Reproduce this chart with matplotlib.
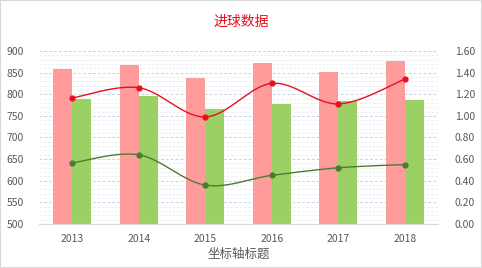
import matplotlib
matplotlib.use("Agg")
import matplotlib.pyplot as plt
import numpy as np
from matplotlib.patches import Rectangle
from matplotlib.ticker import MultipleLocator, FormatStrFormatter

plt.rcParams["font.family"] = ["Noto Sans CJK SC", "DejaVu Sans"]

years = ["2013", "2014", "2015", "2016", "2017", "2018"]
bar_a = [858, 868, 838, 872, 851, 877]
bar_b = [789, 796, 766, 777, 784, 787]
line_a = [1.165, 1.26, 0.99, 1.30, 1.11, 1.34]
line_b = [0.565, 0.64, 0.36, 0.45, 0.52, 0.55]

PINK = "#FF9B9B"
GREEN = "#9BD065"
RED = "#E8101E"
OLIVE = "#4F7A32"
GRAY = "#595959"


def smooth(x, y, n=30):
    # catmull-rom style bezier, like excel's smoothed line
    x = np.asarray(x, float)
    y = np.asarray(y, float)
    px = np.concatenate([[x[0]], x, [x[-1]]])
    py = np.concatenate([[y[0]], y, [y[-1]]])
    xs, ys = [], []
    t = np.linspace(0, 1, n)
    for i in range(1, len(px) - 2):
        p0 = np.array([px[i], py[i]])
        p3 = np.array([px[i + 1], py[i + 1]])
        c1 = p0 + (np.array([px[i + 1], py[i + 1]]) - np.array([px[i - 1], py[i - 1]])) / 6
        c2 = p3 - (np.array([px[i + 2], py[i + 2]]) - np.array([px[i], py[i]])) / 6
        b = ((1 - t) ** 3)[:, None] * p0 + (3 * (1 - t) ** 2 * t)[:, None] * c1 \
            + (3 * (1 - t) * t ** 2)[:, None] * c2 + (t ** 3)[:, None] * p3
        xs.append(b[:, 0])
        ys.append(b[:, 1])
    return np.concatenate(xs), np.concatenate(ys)


fig = plt.figure(figsize=(4.82, 2.68), dpi=100)
fig.patches.append(Rectangle((0, 0), 1, 1, transform=fig.transFigure,
                             fill=False, edgecolor="#D9D9D9", linewidth=1.5))
ax = fig.add_axes([0.081, 0.164, 0.828, 0.646])
x = np.arange(len(years))
w = 0.284
ax.bar(x - w / 2, bar_a, width=w, color=PINK, zorder=2)
ax.bar(x + w / 2, bar_b, width=w, color=GREEN, zorder=2)
ax.set_ylim(500, 900)
ax.set_xlim(-0.5, len(years) - 0.5)
ax.yaxis.set_major_locator(MultipleLocator(50))
ax.yaxis.set_minor_locator(MultipleLocator(10))
ax.grid(axis="y", which="major", color="#C9D3E3", linestyle=(0, (3, 2)), linewidth=0.7, zorder=0)
ax.grid(axis="y", which="minor", color="#E6EAF2", linestyle=(0, (3, 2)), linewidth=0.6, zorder=0)
ax.set_xticks(x)
ax.set_xticklabels(years)
ax.tick_params(axis="both", which="both", length=0, labelsize=7.5, colors=GRAY)
ax.tick_params(axis="y", pad=11)
ax.tick_params(axis="x", pad=7)
for s in ["top", "left", "right"]:
    ax.spines[s].set_visible(False)
ax.spines["bottom"].set_color("#D9D9D9")
ax.set_xlabel("坐标轴标题", fontsize=9, color=GRAY, labelpad=3)

ax2 = ax.twinx()
ax2.set_ylim(0, 1.6)
ax2.yaxis.set_major_locator(MultipleLocator(0.2))
ax2.yaxis.set_major_formatter(FormatStrFormatter("%.2f"))
ax2.tick_params(axis="y", length=0, labelsize=7.5, colors=GRAY, pad=12)
for s in ["top", "left", "right", "bottom"]:
    ax2.spines[s].set_visible(False)
for vals, col in [(line_a, RED), (line_b, OLIVE)]:
    sx, sy = smooth(x, vals)
    ax2.plot(sx, sy, color=col, linewidth=1.0, zorder=3)
    ax2.plot(x, vals, "o", color=col, markersize=3.5, zorder=4)

fig.text(0.5, 0.917, "进球数据", ha="center", va="center", fontsize=10, color="#E8101E")
fig.savefig("out.png", dpi=100)
